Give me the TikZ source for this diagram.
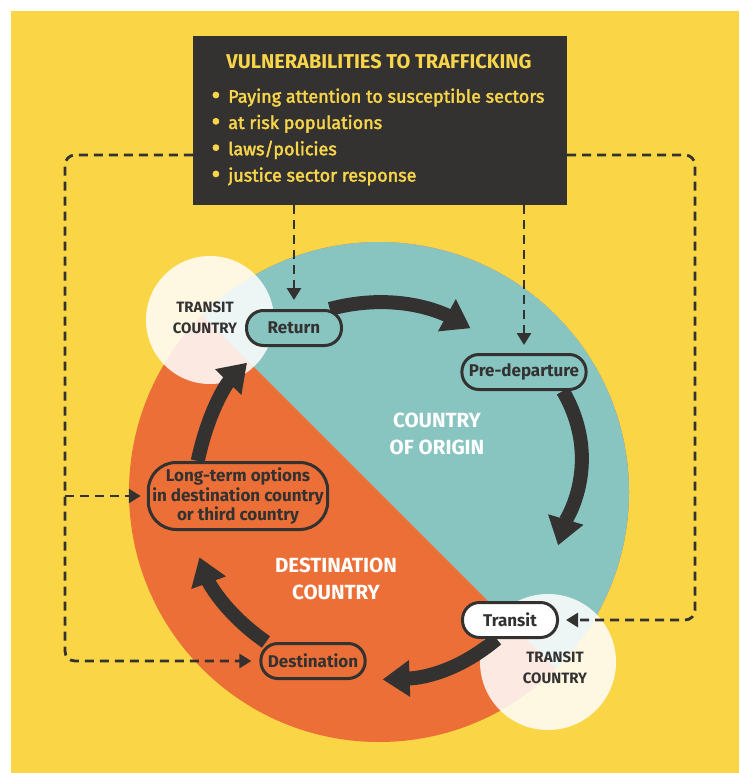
\documentclass[tikz,border=0pt]{standalone}
\usepackage{fontspec}
\setmainfont{Fira Sans}
\newfontfamily\medfont{Fira Sans}[FakeBold=2.2]
\usetikzlibrary{arrows.meta,positioning,calc}
\pgfdeclarelayer{bglayer}
\pgfdeclarelayer{edgelayer}
\pgfdeclarelayer{nodelayer}
\pgfsetlayers{bglayer,edgelayer,nodelayer,main}
\definecolor{sun}{HTML}{FAD646}
\definecolor{origin}{HTML}{88C5C0}
\definecolor{dest}{HTML}{EB6F36}
\definecolor{ink}{HTML}{333231}
\definecolor{boxtext}{HTML}{F8D54A}
\newcommand{\vbul}{\raisebox{-1.6pt}{\scalebox{1.5}{\textbullet}}\hspace{8pt}}
\tikzset{
    stage/.style={draw=ink, line width=3pt, rounded corners=17pt, minimum height=35pt,
        minimum width=95pt, inner xsep=7pt, text=ink, font=\bfseries\fontsize{17}{19.5}\selectfont},
    flow/.style={draw=ink, line width=14pt, -{Triangle[width=35pt,length=27pt]}},
    hint/.style={draw=ink, line width=2.8pt, dash pattern=on 9pt off 6pt,
        -{Triangle[width=14pt,length=12pt]}},
    region/.style={text=white, font=\bfseries\fontsize{20.5}{27}\selectfont, align=center},
    transitlbl/.style={text=ink, font=\bfseries\fontsize{15}{21}\selectfont, align=center},
}

\begin{document}
\begin{tikzpicture}[x=1pt,y=1pt]
    \useasboundingbox (0,0) rectangle (739,-773);
    \begin{pgfonlayer}{bglayer}
            \fill[white] (0,0) rectangle (739,-773);
            \fill[sun] (11,-11) rectangle (739,-773);
            \coordinate (ctr) at (379,-492);
            \fill[dest] (ctr) circle[radius=250];
            \fill[origin] (ctr) ++(135:250) arc[start angle=135, end angle=-45, radius=250] -- cycle;
            \fill[white, opacity=0.85] (210,-320) circle[radius=64];
            \fill[white, opacity=0.85] (548,-662) circle[radius=68];
    \end{pgfonlayer}
    \begin{pgfonlayer}{nodelayer}
            \node [fill=ink, minimum width=374pt, minimum height=169pt, inner sep=0pt] (vuln) at (380,-120.5) {};
            \node [text=boxtext, font=\bfseries\fontsize{20}{22}\selectfont] (vulntitle) at (379,-62) {VULNERABILITIES TO TRAFFICKING};
            \node [text=boxtext, font=\medfont\fontsize{18}{26.3}\selectfont, align=left, anchor=west] (vulnlist) at (208,-137)
                {\vbul Paying attention to susceptible sectors\\
                 \vbul at risk populations\\
                 \vbul laws/policies\\
                 \vbul justice sector response};
            \node [stage, fill=origin] (return) at (294,-328) {Return};
            \node [stage, fill=origin] (predep) at (524,-372) {Pre-departure};
            \node [stage, fill=white] (transit) at (510,-620) {Transit};
            \node [stage, fill=dest] (destination) at (313,-661) {Destination};
            \node [stage, fill=dest, rounded corners=28pt, minimum height=67pt, inner xsep=4pt, align=center] (longterm) at (238,-496)
                {Long-term options\\in destination country\\or third country};
            \node [region] (originlbl) at (437,-433.5) {COUNTRY\\OF ORIGIN};
            \node [region] (destlbl) at (336,-579) {DESTINATION\\COUNTRY};
            \node [transitlbl] (transitlbl1) at (205,-317.5) {TRANSIT\\COUNTRY};
            \node [transitlbl] (transitlbl2) at (555,-667.5) {TRANSIT\\COUNTRY};
    \end{pgfonlayer}
        \coordinate (lt) at (65,-155);
        \coordinate (lb) at (65,-661);
        \coordinate (rt) at (695,-155);
        \coordinate (rb) at (695,-620);
    \begin{pgfonlayer}{edgelayer}
            \draw [flow, shorten >=51pt] (return.28) to [out=15, in=151] (predep.115);
            \draw [flow, shorten >=58pt] (predep.-26) to [out=-60, in=73.5] (transit.31);
            \draw [flow, shorten >=16pt] (transit.235) to [out=-140, in=2] (destination.south east);
            \draw [flow, shorten >=28pt] (destination.158) to [out=145, in=-70] (longterm.216);
            \draw [flow, shorten >=22pt] (longterm.139.5) to [out=78, in=225.7] (return.211);
            \draw [hint, rounded corners=10pt, shorten >=8pt] (lt -| vuln.west) -- (lt) -- (lb) -- (destination);
            \draw [hint, shorten >=6pt] (lt |- longterm) -- (longterm);
            \draw [hint, rounded corners=10pt, shorten >=7pt] (rt -| vuln.east) -- (rt) -- (rb) -- (transit);
            \draw [hint, shorten >=9pt] (vuln.south -| return) -- (return);
            \draw [hint, shorten >=8pt] (vuln.south -| predep) -- (predep);
    \end{pgfonlayer}
\end{tikzpicture}
\end{document}
